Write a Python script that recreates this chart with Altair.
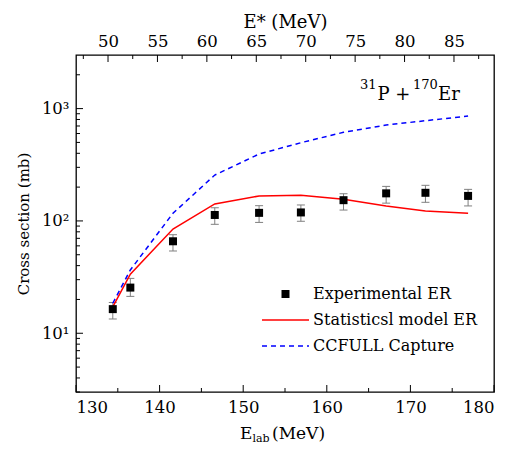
import altair as alt
import pandas as pd

# ---- data ----
e_lab = [134.4, 136.5, 141.6, 146.6, 151.9, 156.9, 162.0, 167.1, 171.8, 176.9]
exp_er = [16.4, 25.5, 65.9, 113, 118, 119, 153, 176, 178, 167]
exp_lo = [13.4, 21.3, 54.0, 93.3, 97, 99.3, 125, 144, 146.5, 136]
exp_hi = [18.8, 30.8, 75.4, 131, 136.7, 138.7, 174.6, 203, 207.5, 191]
stat_er = [17.2, 33.6, 84.7, 141.7, 166.8, 169, 155.7, 136, 122.5, 117]
ccfull = [18.5, 36.6, 117, 256, 394, 497, 615, 714, 780, 859]

x_major = [130, 140, 150, 160, 170, 180]
x_minor = [135, 145, 155, 165, 175]
estar_major = [50, 55, 60, 65, 70, 75, 80, 85]
estar_minor = [47.5, 52.5, 57.5, 62.5, 67.5, 72.5, 77.5, 82.5, 87.5]
y_major = [10, 100, 1000]
y_minor = [3, 4, 5, 6, 7, 8, 9, 20, 30, 40, 50, 60, 70, 80, 90,
           200, 300, 400, 500, 600, 700, 800, 900, 2000]
legend_labels = ["Experimental ER", "Statisticsl model ER", "CCFULL Capture"]
x_domain = [130, 180]
estar_domain = [46.76, 89.05]
y_domain = [3, 3000]

W, H = 418, 337
FONT = "DejaVu Serif"

df = pd.DataFrame({"e": e_lab, "exp": exp_er, "lo": exp_lo, "hi": exp_hi,
                   "stat": stat_er, "cc": ccfull})
one = pd.DataFrame({"a": [0]})

xs = alt.Scale(domain=x_domain, nice=False, zero=False)
ys = alt.Scale(type="log", domain=y_domain, nice=False)

x_axis = alt.Axis(values=x_major, tickSize=0, domain=False, grid=False,
                  labelFont=FONT, labelFontSize=16.5, labelPadding=7,
                  labelColor="black", title=None)
y_axis = alt.Axis(values=y_major, tickSize=0, domain=False, grid=False,
                  labelFont=FONT, labelFontSize=16.5, labelPadding=7,
                  labelColor="black",
                  labelExpr="datum.value == 10 ? '10¹' : datum.value == 100 ? '10²' : '10³'",
                  title="Cross section (mb)", titleFont=FONT, titleFontSize=15,
                  titleFontWeight="normal", titleColor="black", titlePadding=10)

X = alt.X("e:Q", scale=xs, axis=x_axis)

err = alt.Chart(df).mark_rule(color="#7f7f7f", strokeWidth=1).encode(
    x=X, y=alt.Y("lo:Q", scale=ys, axis=y_axis), y2="hi:Q")
cap_hi = alt.Chart(df).mark_tick(orient="horizontal", size=8, thickness=1,
                                 color="#7f7f7f", opacity=1).encode(
    x=X, y=alt.Y("hi:Q", scale=ys, axis=y_axis))
cap_lo = alt.Chart(df).mark_tick(orient="horizontal", size=8, thickness=1,
                                 color="#7f7f7f", opacity=1).encode(
    x=X, y=alt.Y("lo:Q", scale=ys, axis=y_axis))
stat_line = alt.Chart(df).mark_line(color="#ff0000", strokeWidth=1.5).encode(
    x=X, y=alt.Y("stat:Q", scale=ys, axis=y_axis))
cc_line = alt.Chart(df).mark_line(color="#0000ff", strokeWidth=1.5,
                                  strokeDash=[5, 4]).encode(
    x=X, y=alt.Y("cc:Q", scale=ys, axis=y_axis))
pts = alt.Chart(df).mark_square(size=64, color="black", opacity=1).encode(
    x=X, y=alt.Y("exp:Q", scale=ys, axis=y_axis))

# inward ticks
xt_major = alt.Chart(pd.DataFrame({"t": x_major})).mark_rule(color="black").encode(
    x=alt.X("t:Q", scale=xs, axis=x_axis), y=alt.value(H), y2=alt.value(H - 7))
xt_minor = alt.Chart(pd.DataFrame({"t": x_minor})).mark_rule(color="black").encode(
    x=alt.X("t:Q", scale=xs, axis=x_axis), y=alt.value(H), y2=alt.value(H - 4))
yt_major = alt.Chart(pd.DataFrame({"t": y_major})).mark_rule(color="black").encode(
    y=alt.Y("t:Q", scale=ys, axis=y_axis), x=alt.value(0), x2=alt.value(7))
yt_minor = alt.Chart(pd.DataFrame({"t": y_minor})).mark_rule(color="black").encode(
    y=alt.Y("t:Q", scale=ys, axis=y_axis), x=alt.value(0), x2=alt.value(4))

def txt(s, x, y, size, align="left", baseline="alphabetic"):
    return alt.Chart(one).mark_text(text=s, font=FONT, fontSize=size, align=align,
                                    baseline=baseline, color="black").encode(
        x=alt.value(x), y=alt.value(y))

# annotation 31P + 170Er
ann = [txt("31", 300.5, 34, 13, align="right"), txt("P +", 301.5, 45, 18),
       txt("170", 337, 34, 13), txt("Er", 362, 45, 18)]

# legend
leg_sq = alt.Chart(one).mark_square(size=64, color="black", opacity=1).encode(
    x=alt.value(209.5), y=alt.value(239))
leg_red = alt.Chart(one).mark_rule(color="#ff0000", strokeWidth=1.5).encode(
    x=alt.value(186), x2=alt.value(233), y=alt.value(265))
leg_blue = alt.Chart(one).mark_rule(color="#0000ff", strokeWidth=1.5,
                                    strokeDash=[5, 4]).encode(
    x=alt.value(186), x2=alt.value(233), y=alt.value(291))
leg_txt = [txt(legend_labels[0], 237, 239, 16, baseline="middle"),
           txt(legend_labels[1], 237, 265, 16, baseline="middle"),
           txt(legend_labels[2], 237, 291, 16, baseline="middle")]

# x title with subscript
xtitle = [txt("E", 164, 384, 17), txt("lab", 176.5, 387, 11), txt("(MeV)", 196, 384, 17)]

inner = alt.layer(err, cap_hi, cap_lo, cc_line, stat_line, pts,
                  xt_major, xt_minor, yt_major, yt_minor,
                  *ann, leg_sq, leg_red, leg_blue, *leg_txt, *xtitle)

es = alt.Scale(domain=estar_domain, nice=False, zero=False)
top_axis = alt.Axis(orient="top", values=estar_major, tickSize=0, domain=False,
                    grid=False, labelFont=FONT, labelFontSize=16.5, labelPadding=6,
                    labelColor="black", title="E* (MeV)", titleFont=FONT,
                    titleFontSize=18, titleFontWeight="normal", titleColor="black",
                    titlePadding=2)
top_major = alt.Chart(pd.DataFrame({"s": estar_major})).mark_rule(color="black").encode(
    x=alt.X("s:Q", scale=es, axis=top_axis), y=alt.value(0), y2=alt.value(7))
top_minor = alt.Chart(pd.DataFrame({"s": estar_minor})).mark_rule(color="black").encode(
    x=alt.X("s:Q", scale=es, axis=top_axis), y=alt.value(0), y2=alt.value(4))

chart = alt.layer(inner, alt.layer(top_major, top_minor)).resolve_scale(
    x="independent"
).properties(
    width=W, height=H,
    autosize=alt.AutoSizeParams(type="none"),
    padding={"left": 68, "top": 47, "right": 13, "bottom": 54},
    background="white",
).configure_view(stroke="black", strokeWidth=1.3)

chart.save("out.html", embed_options={"renderer": "svg", "actions": False})
